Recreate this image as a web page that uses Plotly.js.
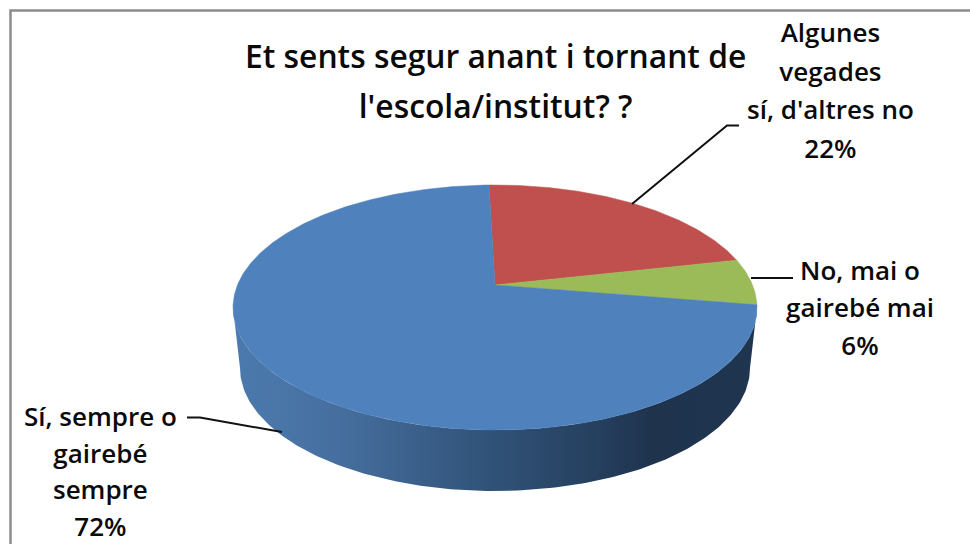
<!DOCTYPE html>
<html>
<head>
<meta charset="utf-8">
<script src="https://cdn.plot.ly/plotly-3.0.1.min.js"></script>
<style>html,body{margin:0;padding:0;background:#fff;overflow:hidden}#c{width:970px;height:544px}</style>
</head>
<body>
<div id="c"></div>
<script>
// Data, clockwise from the top of the pie
const categories = ["Algunes vegades sí, d'altres no", "No, mai o gairebé mai", "Sí, sempre o gairebé sempre"];
const shares = [22, 6, 72];
const sliceColors = ["#c0504d", "#9bbb59", "#4f81bd"];
const labelLines = [
  ["Algunes", "vegades", "sí, d'altres no"],
  ["No, mai o", "gairebé mai"],
  ["Sí, sempre o", "gairebé", "sempre"]
];
const titleLines = ["Et sents segur anant i tornant de", "l'escola/institut? ?"];

// Projection of the tilted disc
const topFace = {cx: 495, cy: 307.5, rx: 262, ry: 122.5};
const baseFace = {cx: 495, cy: 368, rx: 255, ry: 123};
const apexY = 285, startDeg = -1.6;

function rim(deg) {
  const a = deg * Math.PI / 180, sx = Math.sin(a), sy = -Math.cos(a);
  const y0 = (apexY - topFace.cy) / topFace.ry;
  const b = y0 * sy, t = -b + Math.sqrt(b * b - (y0 * y0 - 1));
  return [topFace.cx + topFace.rx * t * sx, topFace.cy + topFace.ry * (y0 + t * sy)];
}
function sweep(e, from, to, step) {
  const xs = [], ys = [];
  for (let a = from; step > 0 ? a <= to : a >= to; a += step) {
    xs.push(e.cx + e.rx * Math.cos(a * Math.PI / 180));
    ys.push(e.cy + e.ry * Math.sin(a * Math.PI / 180));
  }
  return [xs, ys];
}

const traces = [];
const [tx, ty] = sweep(topFace, 0, 180, 1);
const [bx, by] = sweep(baseFace, 180, 0, -1);
traces.push({
  type: "scatter", mode: "lines", x: tx.concat(bx), y: ty.concat(by), fill: "toself",
  line: {width: 0}, hoverinfo: "skip", showlegend: false, name: "side",
  fillgradient: {type: "horizontal", colorscale: [
    [0, "#4c7aae"], [0.2, "#466f9f"], [0.45, "#33567d"], [0.7, "#253f5e"], [0.8, "#1f334d"], [1, "#1f3550"]
  ]}
});
let acc = startDeg;
shares.forEach((v, i) => {
  const end = acc + v * 3.6, xs = [topFace.cx], ys = [apexY];
  for (let a = acc; a < end; a += 0.5) { const p = rim(a); xs.push(p[0]); ys.push(p[1]); }
  const p = rim(end); xs.push(p[0], topFace.cx); ys.push(p[1], apexY);
  traces.push({
    type: "scatter", mode: "lines", x: xs, y: ys, fill: "toself", fillcolor: sliceColors[i],
    line: {width: 0.5, color: sliceColors[i]}, name: categories[i], showlegend: false,
    hovertemplate: categories[i] + ": " + v + "%<extra></extra>"
  });
  acc = end;
});

const spaced = (lines, px) => '<span style="font-size:' + px + 'px">' + lines.join("<br>") + "</span>";
const LABEL_PX = 26, FONT = "'Open Sans', 'Noto Sans', sans-serif";
const labelBase = [29.8, 28.7, 28.2];
const labelPos = [[830, 90], [860, 307.5], [100, 470.5]];
const annotations = labelLines.map((lines, i) => ({
  xref: "x", yref: "y", x: labelPos[i][0], y: labelPos[i][1], xanchor: "center", yanchor: "middle",
  showarrow: false, align: "center",
  text: spaced(lines.concat(shares[i] + "%"), LABEL_PX),
  font: {family: FONT, size: labelBase[i], color: "#0a0a0a", weight: 600}
}));

const seg = (pts) => ({
  type: "path", xref: "x", yref: "y", line: {color: "#111", width: 2},
  path: "M" + pts.map(p => p.join(",")).join("L")
});
const layout = {
  width: 970, height: 544, margin: {l: 0, r: 0, t: 0, b: 0, pad: 0},
  paper_bgcolor: "#ffffff", plot_bgcolor: "#ffffff", showlegend: false,
  title: {
    text: spaced(titleLines, 31.8), x: 0.511, xanchor: "center", y: 0.8756, yanchor: "middle",
    font: {family: FONT, size: 38.5, color: "#0a0a0a", weight: 600}
  },
  xaxis: {range: [0, 970], visible: false, fixedrange: true},
  yaxis: {range: [544, 0], visible: false, fixedrange: true},
  annotations,
  shapes: [
    seg([[632, 204], [727, 125.5], [739, 125.5]]),
    seg([[751, 278], [793, 278]]),
    seg([[187, 417.5], [200, 417.5], [282, 432]]),
    {type: "path", xref: "x", yref: "y", line: {color: "#8c8c8c", width: 2.5},
     path: "M10.5,544L10.5,10.5L970,10.5"}
  ]
};
Plotly.newPlot("c", traces, layout, {displayModeBar: false, staticPlot: true});
</script>
</body>
</html>
